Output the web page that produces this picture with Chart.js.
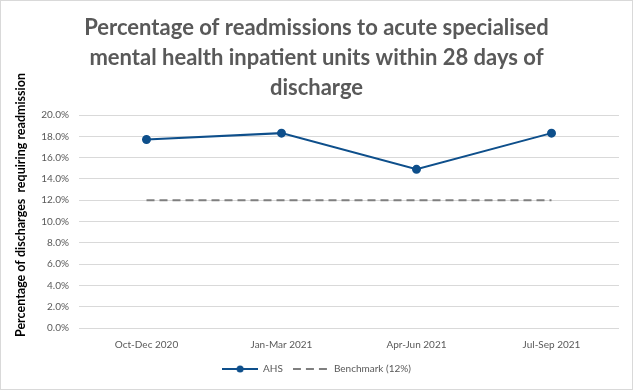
<!DOCTYPE html>
<html>
<head>
<meta charset="utf-8">
<script src="https://cdn.jsdelivr.net/npm/chart.js@4/dist/chart.umd.min.js"></script>
<style>
  html, body { margin: 0; padding: 0; background: #fff; }
  #wrap { width: 633px; height: 390px; box-sizing: border-box; border: 1px solid #d9d9d9; }
</style>
</head>
<body>
<div id="wrap"><canvas id="myChart" width="631" height="388"></canvas></div>
<script>
const quarters = ['Oct-Dec 2020', 'Jan-Mar 2021', 'Apr-Jun 2021', 'Jul-Sep 2021'];
const ahsRate = [17.7, 18.3, 14.9, 18.3];
const benchmark = [12, 12, 12, 12];
const chartTitle = ['Percentage of readmissions to acute specialised',
  'mental health inpatient units within 28 days of', 'discharge'];
const yTitle = 'Percentage of discharges  requiring readmission';

const blue = '#0e4f8b';
const grey = '#7f7f7f';

// small canvases used as legend icons (line + marker, dashed line)
function legendIcon(dashed, color) {
  const c = document.createElement('canvas');
  c.width = 36; c.height = 10;
  const g = c.getContext('2d');
  g.strokeStyle = color;
  g.lineWidth = 2;
  if (dashed) g.setLineDash([8, 5]);
  g.beginPath(); g.moveTo(0, 5); g.lineTo(36, 5); g.stroke();
  if (!dashed) {
    g.fillStyle = color;
    g.beginPath(); g.arc(18, 5, 3.5, 0, Math.PI * 2); g.fill();
  }
  return c;
}
const icons = [legendIcon(false, blue), legendIcon(true, grey)];

const yTitlePlugin = {
  id: 'yTitle',
  afterDraw(chart) {
    const ctx = chart.ctx;
    ctx.save();
    ctx.translate(20, 204);
    ctx.rotate(-Math.PI / 2);
    ctx.font = 'bold 12.5px Lato';
    ctx.fillStyle = '#000';
    ctx.textAlign = 'center';
    ctx.textBaseline = 'middle';
    ctx.fillText(yTitle, 0, 0);
    ctx.restore();
  }
};

const ctx = document.getElementById('myChart').getContext('2d');
new Chart(ctx, {
  type: 'line',
  data: {
    labels: quarters,
    datasets: [{
      label: 'AHS',
      data: ahsRate,
      borderColor: blue,
      backgroundColor: blue,
      borderWidth: 2,
      pointRadius: 3.5,
      pointHoverRadius: 3.5,
      tension: 0
    }, {
      label: 'Benchmark (12%)',
      data: benchmark,
      borderColor: grey,
      backgroundColor: grey,
      borderWidth: 2,
      borderDash: [8, 5],
      pointRadius: 0,
      tension: 0
    }]
  },
  options: {
    responsive: false,
    animation: false,
    layout: { padding: { left: 13, right: 13, top: 0, bottom: 5 } },
    plugins: {
      title: {
        display: true,
        text: chartTitle,
        color: '#595959',
        font: { family: 'Lato', size: 22, weight: 'bold', lineHeight: 1.364 },
        padding: { top: 12, bottom: 12 }
      },
      legend: {
        position: 'bottom',
        labels: {
          usePointStyle: true,
          pointStyleWidth: 36,
          color: '#595959',
          font: { family: 'Lato', size: 10 },
          boxHeight: 10,
          padding: 10,
          generateLabels(chart) {
            return chart.data.datasets.map((ds, i) => ({
              text: ds.label,
              pointStyle: icons[i],
              fontColor: '#595959',
              datasetIndex: i,
              lineWidth: 0
            }));
          }
        }
      },
      tooltip: { enabled: false }
    },
    scales: {
      x: {
        offset: true,
        grid: { display: false },
        border: { display: false },
        ticks: { color: '#595959', font: { family: 'Lato', size: 10 }, padding: 3 }
      },
      y: {
        min: 0,
        max: 20,
        afterFit(scale) { scale.width = 65; },
        grid: { color: '#d9d9d9', drawTicks: false },
        border: { display: false },
        ticks: {
          stepSize: 2,
          padding: 10,
          color: '#595959',
          font: { family: 'Lato', size: 10 },
          callback: v => v.toFixed(1) + '%'
        }
      }
    }
  },
  plugins: [yTitlePlugin]
});
</script>
</body>
</html>
